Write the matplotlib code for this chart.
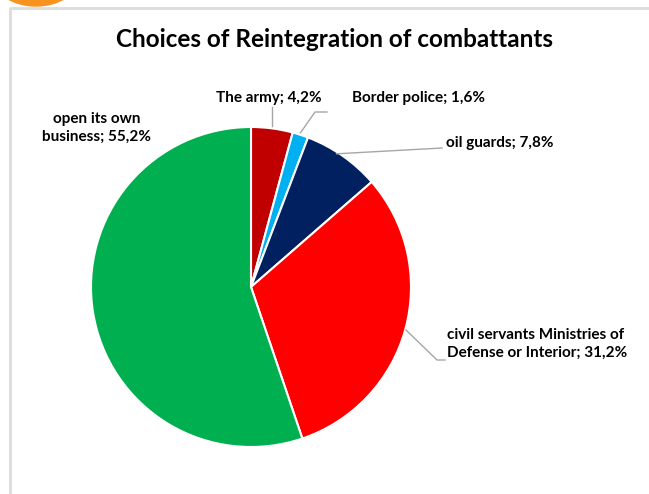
import matplotlib.pyplot as plt
import numpy as np
from matplotlib.patches import Ellipse
from matplotlib.lines import Line2D

plt.rcParams['font.family'] = ['Lato', 'DejaVu Sans']

categories = ["The army", "Border police", "oil guards",
              "civil servants Ministries of\nDefense or Interior",
              "open its own\nbusiness"]
shares = [4.2, 1.6, 7.8, 31.2, 55.2]
colors = ["#C00000", "#00B0F0", "#002060", "#FF0000", "#00B050"]

W, H = 649, 494
fig = plt.figure(figsize=(W / 100, H / 100), dpi=100)
ax = fig.add_axes([0, 0, 1, 1])
ax.set_aspect('equal')

cx, cy, r = 251, H - 287, 160
wedges, _ = ax.pie(shares, colors=colors, startangle=90, counterclock=False,
                   center=(cx, cy), radius=r, frame=True,
                   wedgeprops=dict(edgecolor='white', linewidth=1.5))
ax.set_xlim(0, W)
ax.set_ylim(0, H)
ax.axis('off')

def lab(i):
    return f"{categories[i]}; {shares[i]:.1f}%".replace('.', ',')

def edge_pt(i):
    w = wedges[i]
    a = np.deg2rad((w.theta1 + w.theta2) / 2)
    return cx + r * np.cos(a), cy + r * np.sin(a)

fs = 11
grey = "#A6A6A6"
# The army
x0, y0 = edge_pt(0)
ax.plot([x0, x0], [y0 + 2, H - 107], color=grey, lw=1)
ax.text(269, H - 98, lab(0), ha='center', va='center', fontsize=fs, fontweight='bold')
# Border police
x0, y0 = edge_pt(1)
ax.plot([x0, 315, 327], [y0 + 2, H - 112, H - 112], color=grey, lw=1)
ax.text(352, H - 98, lab(1), ha='left', va='center', fontsize=fs, fontweight='bold')
# oil guards
x0, y0 = edge_pt(2)
ax.plot([x0 - 6, 442], [y0 + 2, H - 148], color=grey, lw=1)
ax.text(446, H - 143, lab(2), ha='left', va='center', fontsize=fs, fontweight='bold')
# civil servants
ax.plot([406, 437, 445], [H - 330, H - 360, H - 360], color=grey, lw=1)
ax.text(447, H - 344, lab(3), ha='left', va='center', fontsize=fs,
        fontweight='bold', linespacing=1.35)
# open its own business
ax.text(97, H - 128, lab(4), ha='center', va='center', fontsize=fs,
        fontweight='bold', linespacing=1.35)

ax.text(335, H - 40, "Choices of Reintegration of combattants", ha='center',
        va='center', fontsize=17.5, fontweight='bold')

# chart frame and decoration from the slide
fig.add_artist(Line2D([10 / W, 10 / W, 1], [0, 1 - 8 / H, 1 - 8 / H],
                      color="#DCDCDC", lw=2))
ax.add_patch(Ellipse((36, H + 22), 84, 56, color="#F7931E", clip_on=True))

fig.savefig("out.png", dpi=100)
